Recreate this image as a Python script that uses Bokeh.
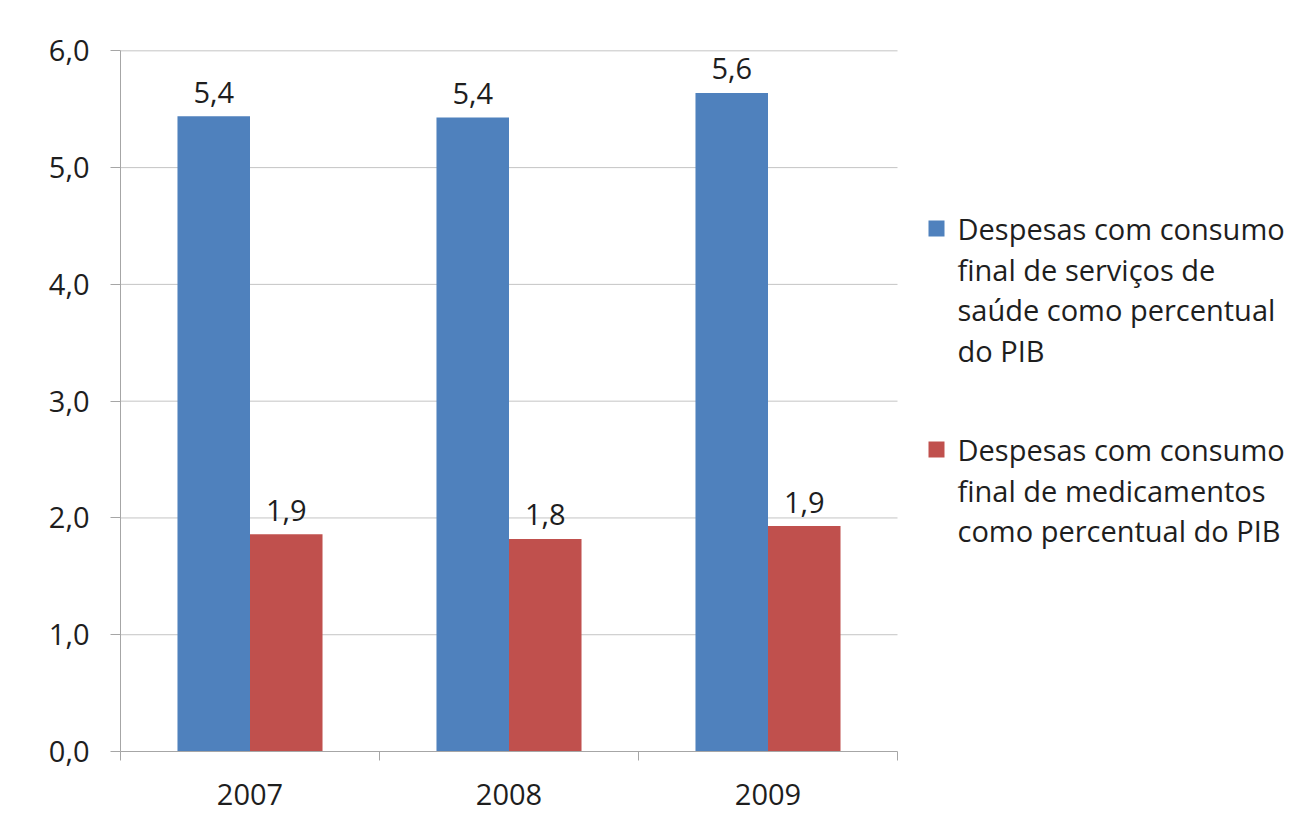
from bokeh.plotting import figure
from bokeh.models import ColumnDataSource, Range1d, FixedTicker, LabelSet
from bokeh.core.properties import value
from bokeh.transform import dodge
from bokeh.embed import file_html
from bokeh.resources import INLINE

# Health spending as % of GDP
anos = ["2007", "2008", "2009"]
servicos = [5.44, 5.43, 5.64]
medicamentos = [1.86, 1.82, 1.93]
y_ticks = [0, 1, 2, 3, 4, 5, 6]
nome_servicos = ["Despesas com consumo", "final de serviços de",
                 "saúde como percentual", "do PIB"]
nome_medicamentos = ["Despesas com consumo", "final de medicamentos",
                     "como percentual do PIB"]

AZUL = "#4f81bd"
VERMELHO = "#c0504d"
FONTE = "Open Sans"
TAM = "29px"
TEXTO = "#1e1e1e"
EIXO = "#a6a6a6"
GRADE = "#c4c4c4"

# pixel layout of the frame
W, H = 1295, 813
LEFT, TOP, BOTTOM = 120, 48, 751
BAR_AREA_RIGHT = 897          # right end of the bar/grid area
Y_MAX = 6.02                  # a hair above 6 so the top gridline is not clipped

n = len(anos)
px_per_cat = (BAR_AREA_RIGHT - LEFT) / n
px_per_unit = (BOTTOM - TOP) / Y_MAX


def px_x(px):
    return (px - LEFT) / px_per_cat


def px_y(py):
    return (BOTTOM - py) / px_per_unit


def rotulo(v):
    return f"{v:.1f}".replace(".", ",")


centros = [i + 0.5 for i in range(n)]
src = ColumnDataSource(dict(
    x=centros,
    servicos=servicos,
    medicamentos=medicamentos,
    rot_s=[rotulo(v) for v in servicos],
    rot_m=[rotulo(v) for v in medicamentos],
))

p = figure(width=W, height=H, output_backend="svg", toolbar_location=None,
           x_range=Range1d(0, px_x(W)), y_range=Range1d(0, Y_MAX),
           min_border_left=LEFT, min_border_right=0, min_border_top=TOP,
           min_border_bottom=H - BOTTOM)
p.outline_line_color = None
p.background_fill_color = "white"
p.border_fill_color = "white"
p.xgrid.grid_line_color = None
p.ygrid.grid_line_color = None

# horizontal gridlines limited to the bar area
grid_y = [t for t in y_ticks if t > 0]
p.segment(x0=[0] * len(grid_y), x1=[n] * len(grid_y), y0=grid_y, y1=grid_y,
          line_color=GRADE, line_width=1)

largura = 0.28
p.vbar(x=dodge("x", -largura / 2), top="servicos", width=largura, source=src,
       fill_color=AZUL, line_color=None)
p.vbar(x=dodge("x", largura / 2), top="medicamentos", width=largura, source=src,
       fill_color=VERMELHO, line_color=None)

for col, rot, off in (("servicos", "rot_s", -largura / 2), ("medicamentos", "rot_m", largura / 2)):
    p.add_layout(LabelSet(x=dodge("x", off), y=col, text=rot, source=src,
                          text_align="center", text_baseline="middle", y_offset=24,
                          text_font=value(FONTE), text_font_size=value(TAM),
                          text_color=TEXTO))

# y axis
p.yaxis.ticker = FixedTicker(ticks=y_ticks)
p.yaxis.major_label_overrides = {t: rotulo(t) for t in y_ticks}
p.yaxis.bounds = (0, 6)
p.yaxis.minor_tick_line_color = None
p.yaxis.major_tick_in = 0
p.yaxis.major_tick_out = 10
p.yaxis.major_label_standoff = 21
for ax in (p.yaxis, p.xaxis):
    ax.axis_line_color = EIXO
    ax.major_tick_line_color = EIXO
    ax.major_label_text_font = FONTE
    ax.major_label_text_font_size = TAM
    ax.major_label_text_color = TEXTO

# x axis: labels at category centres, tick marks at category boundaries
p.xaxis.ticker = FixedTicker(ticks=centros, minor_ticks=list(range(n + 1)))
p.xaxis.major_label_overrides = {c: a for c, a in zip(centros, anos)}
p.xaxis.bounds = (0, n)
p.xaxis.major_tick_line_color = None
p.xaxis.minor_tick_line_color = EIXO
p.xaxis.minor_tick_in = 0
p.xaxis.minor_tick_out = 9
p.xaxis.major_label_standoff = 23

# legend: coloured square beside the first line of each wrapped label
PASSO = 40.5
for linhas, cor, topo in ((nome_servicos, AZUL, 228), (nome_medicamentos, VERMELHO, 449)):
    p.scatter(x=[px_x(936)], y=[px_y(topo)], marker="square", size=16,
              fill_color=cor, line_color=None)
    ys = [px_y(topo + i * PASSO) for i in range(len(linhas))]
    p.text(x=[px_x(957)] * len(linhas), y=ys, text=linhas,
           text_font=value(FONTE), text_font_size=value(TAM), text_color=TEXTO,
           text_align="left", text_baseline="middle")

open("out.html", "w").write(file_html(p, INLINE))
